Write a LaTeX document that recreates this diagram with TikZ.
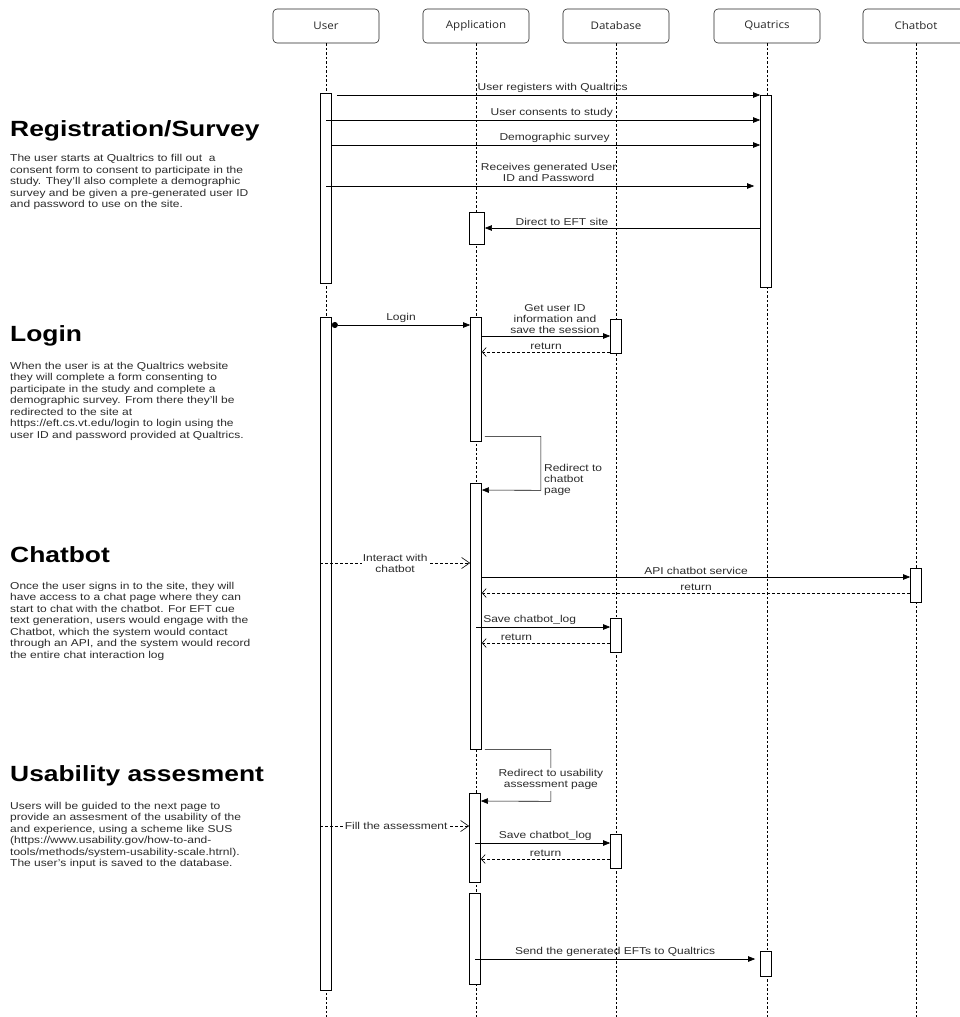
\documentclass[tikz,border=0pt]{standalone}
\usepackage{fontspec}
\setmainfont{Liberation Sans}[FakeStretch=1.2]
\newfontfamily\headfont{Open Sans}[FakeStretch=1.1]
\usetikzlibrary{arrows.meta,positioning}

\definecolor{txt}{HTML}{2B2B2B}

\tikzset{
  lifehead/.style={draw=black!85, line width=0.6pt, rounded corners=4pt, minimum width=106pt, minimum height=34pt,
    font=\headfont\fontsize{10.5}{12}\selectfont, text=black!85},
  lifeline/.style={line width=0.6pt, dash pattern=on 2.5pt off 2pt},
  actbar/.style={draw, line width=0.7pt, fill=white, minimum width=11pt, inner sep=0pt},
  msg/.style={line width=0.6pt, -{Triangle[length=7pt,width=5.5pt]}},
  ret/.style={line width=0.6pt, dash pattern=on 3pt off 2pt, -{Straight Barb[length=4pt,width=9pt]}},
  call/.style={line width=0.6pt, dash pattern=on 3pt off 2pt, -{Straight Barb[length=8pt,width=11pt]}},
  lbl/.style={font=\fontsize{10}{11}\selectfont, text=txt, inner sep=1pt, align=center},
  sechead/.style={anchor=west, inner sep=0pt, font=\bfseries\fontsize{22}{24}\selectfont},
  sectext/.style={anchor=north west, inner sep=0pt, align=left, text=txt,
    font=\fontsize{10}{11.5}\selectfont},
}

\begin{document}
\begin{tikzpicture}[x=1pt, y=-1pt]
\useasboundingbox (0,0) rectangle (960,1017);

% participants
\node[lifehead] (user) at (326,26) {User};
\node[lifehead] (app) at (476,26) {Application};
\node[lifehead] (db) at (616,26) {Database};
\node[lifehead] (qual) at (767,26) {Quatrics};
\node[lifehead] (bot) at (916,26) {Chatbot};

\foreach \p in {user,app,db,qual,bot}
  \draw[lifeline] (\p.south) -- (\p.south |- 0,1017);

% activation bars
\node[actbar, minimum height=190pt] (ub1) at (326,188) {};
\node[actbar, minimum height=192pt] (qb1) at (766,191) {};
\node[actbar, minimum height=32pt, minimum width=15pt] (ab1) at (477,228) {};
\node[actbar, minimum height=673pt] (ub2) at (326,653.5) {};
\node[actbar, minimum height=124pt] (ab2) at (476,379) {};
\node[actbar, minimum height=34pt] (db1) at (616,336) {};
\node[actbar, minimum height=266pt] (ab3) at (476,616) {};
\node[actbar, minimum height=34pt] (cb1) at (916,585) {};
\node[actbar, minimum height=34pt] (db2) at (616,635) {};
\node[actbar, minimum height=89pt] (ab4) at (475,837.5) {};
\node[actbar, minimum height=34pt] (db3) at (616,851) {};
\node[actbar, minimum height=91pt] (ab5) at (475,938.5) {};
\node[actbar, minimum height=25pt] (qb2) at (766,963.5) {};

% registration
\draw[msg] ([xshift=5pt]ub1.east |- 0,95) -- node[lbl, above=1.5pt, pos=.51] {User registers with Qualtrics} (qb1.west |- 0,95);
\draw[msg] (ub1.center |- 0,120) -- node[lbl, above=1.5pt, pos=.52] {User consents to study} (qb1.west |- 0,120);
\draw[msg] (ub1.east |- 0,145) -- node[lbl, above=1.5pt, pos=.52] {Demographic survey} (qb1.west |- 0,145);
\draw[msg] (ub1.center |- 0,186) -- node[lbl, above=3pt, pos=.52] {Receives generated User\\ID and Password} ([xshift=-6pt]qb1.west |- 0,186);
\draw[msg] (qb1.west |- 0,228) -- node[lbl, above=1.5pt, pos=.72] {Direct to EFT site} (ab1.east |- 0,228);

% login
\draw[line width=0.6pt, {Circle[length=6pt]}-{Triangle[length=7pt,width=5.5pt]}] (ub2.east |- 0,325) -- node[lbl, above=1.5pt] {Login} (ab2.west |- 0,325);
\draw[msg] (ab2.east |- 0,336) -- node[lbl, above=1pt, pos=.57] {Get user ID\\information and\\save the session} (db1.west |- 0,336);
\draw[ret] (db1.west |- 0,352) -- node[lbl, above=1.5pt] {return} (ab2.east |- 0,352);
\draw[msg] ([shift={(3,-5)}]ab2.south east) -- ++(56,0) -- node[lbl, right=2pt, pos=.8, align=left] {Redirect to\\chatbot\\page} ++(0,54) -- (ab3.east |- 0,490);

% chatbot
\draw[call] (ub2.west |- 0,563) -- node[lbl, fill=white, pos=.5] {Interact with\\chatbot} (ab3.west |- 0,563);
\draw[msg] (ab3.east |- 0,577) -- node[lbl, above=1.5pt] {API chatbot service} (cb1.west |- 0,577);
\draw[ret] (cb1.west |- 0,593) -- node[lbl, above=1.5pt] {return} (ab3.east |- 0,593);
\draw[msg] (ab3.center |- 0,627) -- node[lbl, above=1.5pt, pos=.4] {Save chatbot\_log} (db2.west |- 0,627);
\draw[ret] (db2.west |- 0,643) -- node[lbl, above=1.5pt, pos=.73] {return} (ab3.east |- 0,643);
\draw[msg] ([xshift=3pt]ab3.south east) -- ++(66,0) -- node[lbl, fill=white, pos=.58] {Redirect to usability\\assessment page} ++(0,52) -- (ab4.east |- 0,801);

% usability assessment
\draw[call] (ub2.west |- 0,826) -- node[lbl, fill=white, pos=.51] {Fill the assessment} (ab4.west |- 0,826);
\draw[msg] (ab4.center |- 0,843) -- node[lbl, above=1.5pt, pos=.52] {Save chatbot\_log} (db3.west |- 0,843);
\draw[ret] (db3.west |- 0,859) -- node[lbl, above=1.5pt] {return} (ab4.east |- 0,859);
\draw[msg] (ab5.center |- 0,959) -- node[lbl, above=1.5pt] {Send the generated EFTs to Qualtrics} ([xshift=-5pt]qb2.west |- 0,959);

% section notes
\node[sechead] (s1) at (10,131) {Registration/Survey};
\node[sectext] (n1) at (10,154.5) {The user starts at Qualtrics to fill out\ \ a\\consent form to consent to participate in the\\study. They'll also complete a demographic\\survey and be given a pre-generated user ID\\and password to use on the site.};

\node[sechead] (s2) at (10,336) {Login};
\node[sectext] (n2) at (10,362) {When the user is at the Qualtrics website\\they will complete a form consenting to\\participate in the study and complete a\\demographic survey. From there they'll be\\redirected to the site at\\https://eft.cs.vt.edu/login to login using the\\user ID and password provided at Qualtrics.};

\node[sechead] (s3) at (10,555) {Chatbot};
\node[sectext] (n3) at (10,582) {Once the user signs in to the site, they will\\have access to a chat page where they can\\start to chat with the chatbot. For EFT cue\\text generation, users would engage with the\\Chatbot, which the system would contact\\through an API, and the system would record\\the entire chat interaction log};

\node[sechead] (s4) at (10,776) {Usability assesment};
\node[sectext] (n4) at (10,802) {Users will be guided to the next page to\\provide an assesment of the usability of the\\and experience, using a scheme like SUS\\(https://www.usability.gov/how-to-and-\\tools/methods/system-usability-scale.htrnl).\\The user's input is saved to the database.};

\end{tikzpicture}
\end{document}
